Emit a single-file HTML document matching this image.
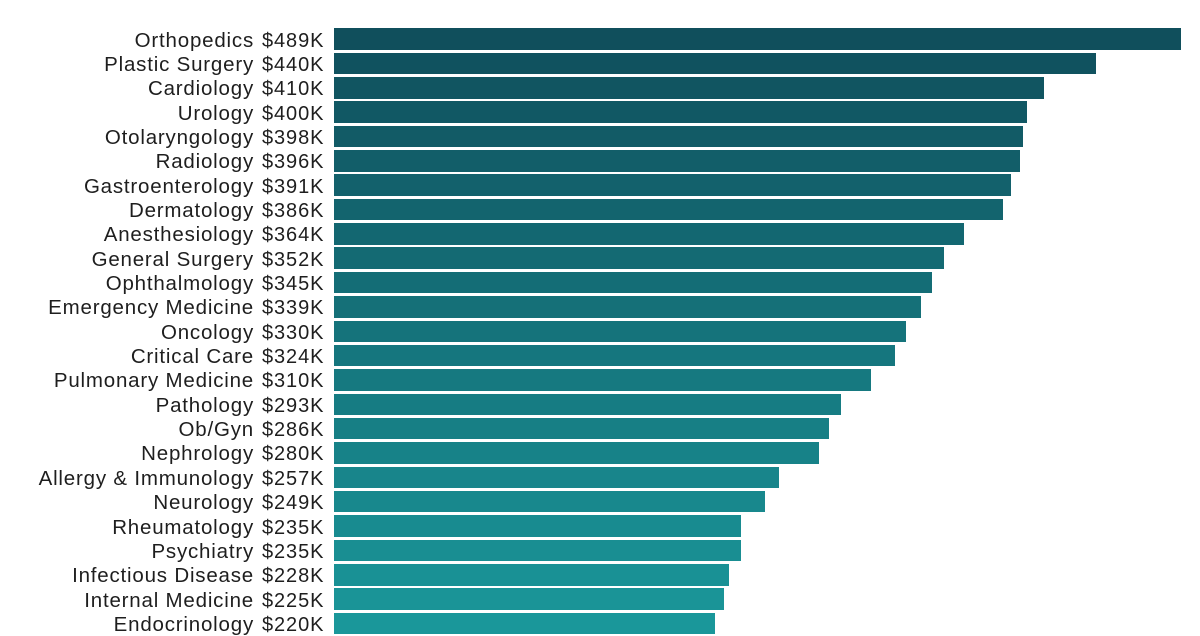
<!DOCTYPE html><html><head><meta charset="utf-8"><style>
body{margin:0;width:1200px;height:628px;background:#fff;overflow:hidden;position:relative;font-family:"Liberation Sans",sans-serif;color:#1e1e1e}
.l{position:absolute;right:946px;font-size:20.5px;letter-spacing:0.8px;line-height:22px;white-space:nowrap}
.v{position:absolute;left:262px;font-size:20px;letter-spacing:0.9px;line-height:22px}
.b{position:absolute;left:334px;height:21.5px}
</style></head><body>
<script>
const d=[["Orthopedics",489],["Plastic Surgery",440],["Cardiology",410],["Urology",400],["Otolaryngology",398],["Radiology",396],["Gastroenterology",391],["Dermatology",386],["Anesthesiology",364],["General Surgery",352],["Ophthalmology",345],["Emergency Medicine",339],["Oncology",330],["Critical Care",324],["Pulmonary Medicine",310],["Pathology",293],["Ob/Gyn",286],["Nephrology",280],["Allergy & Immunology",257],["Neurology",249],["Rheumatology",235],["Psychiatry",235],["Infectious Disease",228],["Internal Medicine",225],["Endocrinology",220]];
let h="";
d.forEach((r,i)=>{const t=28.3+i*24.35,f=i/24;
const c=`rgb(${Math.round(16+f*10)},${Math.round(79+f*72)},${Math.round(92+f*62)})`;
h+=`<div class="l" style="top:${t+1.2}px">${r[0].replace("&","&amp;")}</div><div class="v" style="top:${t+1.2}px">$${r[1]}K</div><div class="b" style="top:${t}px;width:${r[1]*1.732}px;background:${c}"></div>`;});
document.write(h);
</script>
</body></html>
